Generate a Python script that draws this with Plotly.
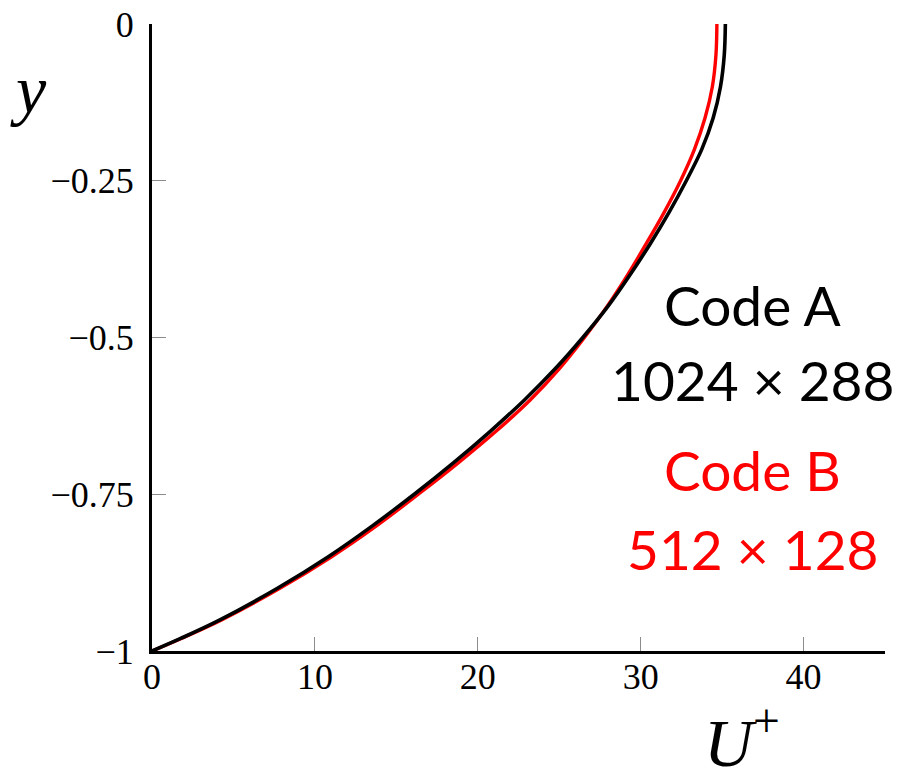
import plotly.graph_objects as go

# Wall-normal coordinate (wall at y = -1, channel centre at y = 0)
y_pos = [-1.00, -0.98, -0.95, -0.90, -0.85, -0.80, -0.75, -0.70, -0.65, -0.60,
         -0.55, -0.50, -0.45, -0.40, -0.35, -0.30, -0.25, -0.20, -0.15, -0.10,
         -0.05, 0.00]

# Mean streamwise velocity profiles U+
u_code_a = [0.0, 1.76, 4.2, 7.7, 10.8, 13.55, 16.1, 18.5, 20.75, 22.85,
            24.75, 26.45, 28.0, 29.35, 30.6, 31.75, 32.8, 33.75, 34.45, 34.9,
            35.13, 35.2]
u_code_b = [0.0, 1.8, 4.3, 7.85, 11.0, 13.8, 16.35, 18.8, 21.1, 23.2,
            25.0, 26.55, 27.95, 29.2, 30.35, 31.45, 32.45, 33.3, 33.95, 34.4,
            34.62, 34.68]

x_ticks = [0, 10, 20, 30, 40]
x_tick_text = ["0", "10", "20", "30", "40"]
y_ticks = [-1, -0.75, -0.5, -0.25, 0]
y_tick_text = ["\u22121", "\u22120.75", "\u22120.5", "\u22120.25", "0"]

serif = "Liberation Serif"
sans = "Lato"

fig = go.Figure()
fig.add_trace(go.Scatter(x=u_code_b, y=y_pos, mode="lines",
                         line=dict(color="#ff0000", width=3.4, shape="spline"),
                         showlegend=False))
fig.add_trace(go.Scatter(x=u_code_a, y=y_pos, mode="lines",
                         line=dict(color="#000000", width=3.6, shape="spline"),
                         showlegend=False))

axis_common = dict(showgrid=False, zeroline=False, showline=True,
                   linecolor="black", linewidth=3, ticks="inside",
                   ticklen=14, tickwidth=1, tickcolor="#8c8c8c",
                   automargin=False,
                   tickfont=dict(family=serif, size=36, color="black"))

fig.update_xaxes(range=[0, 45], tickvals=x_ticks, ticktext=x_tick_text,
                 ticklabelstandoff=-8, **axis_common)
fig.update_yaxes(range=[-1, 0], tickvals=y_ticks, ticktext=y_tick_text,
                 ticklabelstandoff=8, **axis_common)

# Axis titles
fig.add_annotation(text="<i>y</i>", xref="paper", yref="paper",
                   x=-0.169, y=0.895, xanchor="center", yanchor="middle",
                   showarrow=False, font=dict(family=serif, size=68, color="black"))
fig.add_annotation(text="<i>U</i><sup>+</sup>", xref="paper", yref="paper",
                   x=0.805, y=(651 - 783) / 627, xanchor="center", yanchor="bottom",
                   showarrow=False, font=dict(family=serif, size=68, color="black"))

# Case labels
labels = [("Code A", "black", 305), ("1024 \u00d7 288", "black", 380),
          ("Code B", "#ff0000", 470), ("512 \u00d7 128", "#ff0000", 549)]
for txt, col, py in labels:
    fig.add_annotation(text=txt, xref="paper", yref="paper",
                       x=(752 - 152) / 733, y=(651 - py) / 627,
                       xanchor="center", yanchor="middle", showarrow=False,
                       font=dict(family=sans, size=55, color=col))

fig.update_layout(width=898, height=784,
                  margin=dict(l=152, r=13, t=24, b=133),
                  plot_bgcolor="white", paper_bgcolor="white")

fig.write_html("out.html")
